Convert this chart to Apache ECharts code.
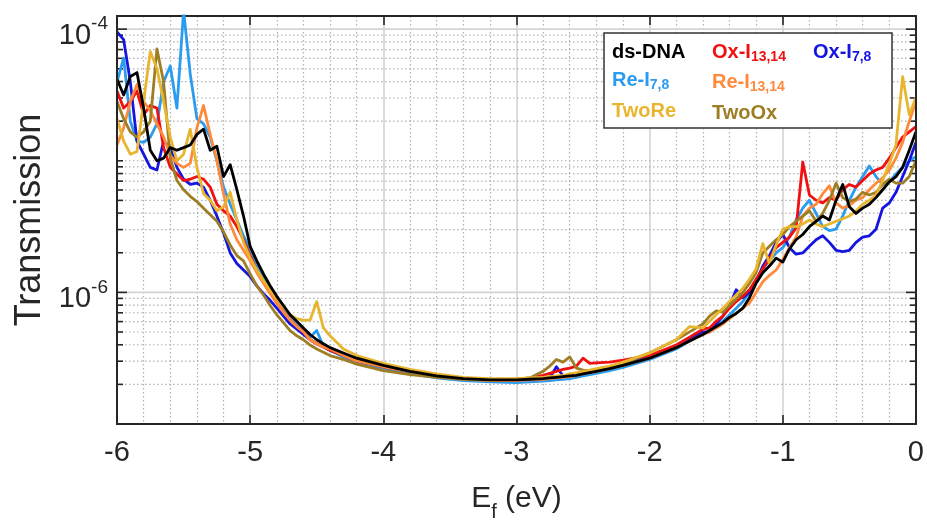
<!DOCTYPE html>
<html>
<head>
<meta charset="utf-8">
<script src="https://cdn.jsdelivr.net/npm/echarts@6/dist/echarts.min.js"></script>
<style>
  html, body { margin: 0; padding: 0; background: #fff; }
  #chart { width: 927px; height: 527px; }
</style>
</head>
<body>
<div id="chart"></div>
<script>
// Fermi energy grid (eV)
const energy = [
  -6.00, -5.95, -5.90, -5.85, -5.80, -5.75, -5.70, -5.65, -5.60, -5.55,
  -5.50, -5.45, -5.40, -5.35, -5.30, -5.25, -5.20, -5.15, -5.10, -5.05,
  -5.00, -4.95, -4.90, -4.85, -4.80, -4.75, -4.70, -4.65, -4.60,
  -4.55, -4.50, -4.45, -4.40, -4.30, -4.20, -4.00, -3.80, -3.60, -3.40,
  -3.20, -3.00, -2.90, -2.80, -2.75, -2.70, -2.65, -2.60, -2.55, -2.50,
  -2.45, -2.40, -2.30, -2.20, -2.00, -1.80, -1.70, -1.60,
  -1.55, -1.50, -1.45, -1.40, -1.35, -1.30, -1.25, -1.20, -1.15, -1.10,
  -1.05, -1.00, -0.95, -0.90, -0.85, -0.80, -0.75, -0.70, -0.65, -0.60,
  -0.55, -0.50, -0.45, -0.40, -0.35, -0.30, -0.25, -0.20, -0.15, -0.10,
  -0.05, 0.00
];

// log10 of the transmission for each structure
const dsDNA = [
  -4.38, -4.50, -4.36, -4.33, -4.60, -4.92, -5.00, -4.98, -4.90, -4.92,
  -4.90, -4.88, -4.80, -4.76, -4.92, -4.89, -5.12, -5.03, -5.22, -5.42,
  -5.65, -5.76, -5.86, -5.95, -6.03, -6.10, -6.17, -6.22, -6.27,
  -6.32, -6.36, -6.39, -6.42, -6.46, -6.50, -6.555, -6.60, -6.635, -6.655,
  -6.665, -6.665, -6.66, -6.655, -6.65, -6.645, -6.64, -6.635, -6.63, -6.62,
  -6.61, -6.60, -6.58, -6.555, -6.50, -6.42, -6.37, -6.32,
  -6.29, -6.26, -6.23, -6.19, -6.16, -6.12, -6.04, -5.93, -5.85, -5.80,
  -5.74, -5.77, -5.67, -5.60, -5.56, -5.50, -5.46, -5.42, -5.45, -5.30,
  -5.18, -5.35, -5.40, -5.36, -5.33, -5.28, -5.22, -5.16, -5.12, -5.05,
  -4.92, -4.78
];
const oxI1314 = [
  -4.47, -4.60, -4.55, -4.47, -4.65, -4.58, -4.60, -4.90, -5.05, -5.10,
  -5.15, -5.14, -5.12, -5.14, -5.20, -5.33, -5.38, -5.42, -5.50, -5.60,
  -5.72, -5.83, -5.92, -6.00, -6.08, -6.15, -6.21, -6.26, -6.30,
  -6.36, -6.39, -6.415, -6.44, -6.48, -6.52, -6.565, -6.60, -6.635, -6.655,
  -6.665, -6.66, -6.65, -6.63, -6.615, -6.60, -6.585, -6.575, -6.56, -6.50,
  -6.54, -6.535, -6.53, -6.515, -6.48, -6.40, -6.34, -6.28,
  -6.27, -6.22, -6.18, -6.12, -6.07, -6.03, -5.98, -5.90, -5.82, -5.74,
  -5.66, -5.62, -5.58, -5.51, -5.01, -5.26, -5.30, -5.32, -5.28, -5.30,
  -5.22, -5.18, -5.20, -5.15, -5.10, -5.07, -5.05, -4.98, -4.90, -4.82,
  -4.78, -4.74
];
const oxI78 = [
  -4.02, -4.08, -4.40, -4.85, -4.95, -5.05, -5.07, -4.85, -4.90, -5.05,
  -5.14, -5.18, -5.17, -5.20, -5.30, -5.42, -5.55, -5.70, -5.78, -5.83,
  -5.88, -5.95, -6.01, -6.06, -6.12, -6.18, -6.24, -6.28, -6.32,
  -6.36, -6.39, -6.415, -6.44, -6.48, -6.52, -6.565, -6.60, -6.635, -6.655,
  -6.665, -6.665, -6.66, -6.655, -6.65, -6.565, -6.635, -6.63, -6.625, -6.615,
  -6.605, -6.595, -6.575, -6.55, -6.49, -6.41, -6.35, -6.30,
  -6.30, -6.24, -6.18, -6.10, -5.98, -6.04, -6.00, -5.92, -5.80, -5.72,
  -5.62, -5.56, -5.66, -5.71, -5.70, -5.65, -5.60, -5.57, -5.62, -5.68,
  -5.69, -5.68, -5.62, -5.58, -5.57, -5.52, -5.36, -5.32, -5.24, -5.12,
  -5.00, -4.86
];
const reI78 = [
  -4.40, -4.22, -4.70, -4.85, -4.86, -4.82, -4.72, -4.40, -4.28, -4.60,
  -3.86, -4.34, -4.68, -4.72, -4.82, -5.00, -5.20, -5.33, -5.45, -5.57,
  -5.67, -5.79, -5.89, -5.98, -6.06, -6.13, -6.20, -6.25, -6.30,
  -6.34, -6.29, -6.41, -6.44, -6.49, -6.53, -6.575, -6.615, -6.65, -6.67,
  -6.68, -6.685, -6.68, -6.675, -6.67, -6.665, -6.66, -6.655, -6.645, -6.635,
  -6.625, -6.615, -6.595, -6.57, -6.51, -6.43, -6.37, -6.31,
  -6.30, -6.26, -6.22, -6.17, -6.12, -6.07, -6.00, -5.90, -5.82, -5.76,
  -5.70, -5.66, -5.58, -5.45, -5.36, -5.30, -5.40, -5.50, -5.53, -5.52,
  -5.42, -5.30, -5.20, -5.12, -5.04, -5.12, -5.18, -5.16, -5.10, -5.05,
  -5.00, -4.97
];
const reI1314 = [
  -4.88, -4.75, -4.55, -4.42, -4.55, -4.62, -4.72, -4.82, -4.96, -5.02,
  -5.05, -5.02, -4.75, -4.58, -4.80, -5.00, -5.25, -5.48, -5.60, -5.68,
  -5.76, -5.85, -5.93, -6.01, -6.08, -6.15, -6.21, -6.26, -6.30,
  -6.36, -6.39, -6.415, -6.43, -6.48, -6.52, -6.565, -6.60, -6.64, -6.66,
  -6.67, -6.67, -6.665, -6.66, -6.655, -6.65, -6.645, -6.64, -6.63, -6.62,
  -6.61, -6.60, -6.58, -6.555, -6.50, -6.42, -6.37, -6.32,
  -6.30, -6.27, -6.24, -6.20, -6.16, -6.12, -6.08, -6.00, -5.92, -5.87,
  -5.83, -5.75, -5.66, -5.58, -5.42, -5.36, -5.33, -5.25, -5.19, -5.32,
  -5.36, -5.34, -5.30, -5.28, -5.22, -5.17, -5.13, -5.07, -4.98, -4.86,
  -4.70, -4.55
];
const twoRe = [
  -4.68, -4.85, -4.95, -4.93, -4.55, -4.17, -4.30, -4.55, -4.82, -5.00,
  -4.95, -4.76, -5.05, -5.25, -5.30, -5.38, -5.35, -5.24, -5.45, -5.62,
  -5.74, -5.83, -5.91, -5.98, -6.05, -6.11, -6.17, -6.20, -6.21,
  -6.21, -6.07, -6.27, -6.33, -6.43, -6.48, -6.54, -6.585, -6.62, -6.645,
  -6.655, -6.655, -6.65, -6.645, -6.64, -6.635, -6.63, -6.62, -6.61, -6.60,
  -6.59, -6.58, -6.56, -6.53, -6.46, -6.36, -6.26, -6.27,
  -6.22, -6.17, -6.12, -6.07, -6.02, -5.97, -5.90, -5.82, -5.63, -5.78,
  -5.64, -5.52, -5.50, -5.50, -5.48, -5.45, -5.48, -5.50, -5.48, -5.46,
  -5.44, -5.42, -5.38, -5.33, -5.30, -5.26, -5.15, -5.02, -4.88, -4.36,
  -4.65, -4.52
];
const twoOx = [
  -4.55, -4.68, -4.78, -4.82, -4.78, -4.70, -4.15, -4.40, -4.98, -5.15,
  -5.22, -5.27, -5.31, -5.36, -5.41, -5.46, -5.54, -5.64, -5.72, -5.76,
  -5.86, -5.95, -6.02, -6.10, -6.17, -6.23, -6.29, -6.33, -6.36,
  -6.40, -6.43, -6.455, -6.48, -6.51, -6.545, -6.595, -6.625, -6.645, -6.66,
  -6.665, -6.66, -6.65, -6.60, -6.56, -6.51, -6.53, -6.49, -6.575, -6.59,
  -6.595, -6.59, -6.57, -6.54, -6.46, -6.36, -6.30, -6.24,
  -6.18, -6.14, -6.15, -6.10, -6.05, -6.00, -5.93, -5.85, -5.70, -5.65,
  -5.60, -5.56, -5.50, -5.46, -5.42, -5.38, -5.46, -5.40, -5.30, -5.17,
  -5.28, -5.31, -5.29, -5.24, -5.26, -5.24, -5.18, -5.14, -5.17, -5.17,
  -5.12, -5.00
];

// axis ranges and labelled decades
const xRange = [-6, 0];
const yRange = [1e-7, Math.pow(10, -3.9)];
const yLabelExponents = [-6, -4];
const yMajorLines = [1e-6, 1e-4];

const FONT = '"Liberation Sans", Arial, sans-serif';
const AXIS_COLOR = '#262626';

// series: legend label parts, colour, values; listed in drawing order
const curves = [
  { main: 'Re-I', sub: '7,8',   color: '#2A9BEF', values: reI78 },
  { main: 'Ox-I', sub: '7,8',   color: '#1515E0', values: oxI78 },
  { main: 'Ox-I', sub: '13,14', color: '#F01010', values: oxI1314 },
  { main: 'Re-I', sub: '13,14', color: '#FF8A3C', values: reI1314 },
  { main: 'TwoOx', sub: '',     color: '#9E7E25', values: twoOx },
  { main: 'TwoRe', sub: '',     color: '#E8B52F', values: twoRe },
  { main: 'ds-DNA', sub: '',    color: '#000000', values: dsDNA }
];
curves.forEach(c => { c.name = c.main + c.sub; });
const byName = {};
curves.forEach(c => { byName[c.name] = c; });

// minor decade lines (2..9 x 10^n, plus the unlabelled decade 10^-5)
const gridRows = [];
for (let e = -7; e <= -5; e++) {
  for (let k = 1; k <= 9; k++) {
    const v = k * Math.pow(10, e);
    if (v <= yRange[0] * 1.0001) continue;
    const major = yMajorLines.some(m => Math.abs(m - v) / m < 1e-6);
    gridRows.push([xRange[0], v, major ? 1 : 0]);
  }
}
gridRows.push([xRange[0], 1e-4, 1]);

const chart = echarts.init(document.getElementById('chart'), null, { renderer: 'canvas' });

const lineSeries = curves.map(c => ({
  name: c.name,
  type: 'line',
  xAxisIndex: 0,
  yAxisIndex: 0,
  showSymbol: false,
  symbol: 'none',
  clip: true,
  z: 3,
  lineStyle: { color: c.color, width: 2.8, join: 'round' },
  itemStyle: { color: c.color },
  data: energy.map((x, i) => [x, Math.pow(10, c.values[i])])
}));

const gridSeries = {
  type: 'custom',
  xAxisIndex: 0,
  yAxisIndex: 0,
  silent: true,
  z: 1,
  encode: { x: 0, y: 1 },
  data: gridRows,
  renderItem: function (params, api) {
    const v = api.value(1);
    const major = api.value(2) === 1;
    const a = api.coord([xRange[0], v]);
    const b = api.coord([xRange[1], v]);
    const len = major ? 10 : 6;
    return {
      type: 'group',
      children: [
        {
          type: 'line',
          shape: { x1: a[0], y1: a[1], x2: b[0], y2: b[1] },
          style: major
            ? { stroke: '#d4d4d4', lineWidth: 1.6 }
            : { stroke: '#b0b0b0', lineWidth: 1.2, lineDash: [1.5, 2.5] }
        },
        {
          type: 'line',
          shape: { x1: a[0], y1: a[1], x2: a[0] + len, y2: a[1] },
          style: { stroke: AXIS_COLOR, lineWidth: 1.6 }
        },
        {
          type: 'line',
          shape: { x1: b[0] - len, y1: b[1], x2: b[0], y2: b[1] },
          style: { stroke: AXIS_COLOR, lineWidth: 1.6 }
        }
      ]
    };
  }
};

const legendRich = {
  m: { fontFamily: FONT, fontSize: 20, fontWeight: 'bold', lineHeight: 24 },
  s: { fontFamily: FONT, fontSize: 14, fontWeight: 'bold', lineHeight: 10, verticalAlign: 'bottom' }
};
function legendFor(names, left) {
  return {
    orient: 'vertical',
    left: left,
    top: 40,
    padding: 0,
    itemGap: 6.5,
    itemWidth: 0,
    itemHeight: 24,
    icon: 'none',
    selectedMode: false,
    z: 20,
    data: names.map(n => ({ name: n, textStyle: { color: byName[n].color } })),
    formatter: function (n) {
      const c = byName[n];
      return c.sub ? '{m|' + c.main + '}{s|' + c.sub + '}' : '{m|' + c.main + '}';
    },
    textStyle: { rich: legendRich, fontFamily: FONT, fontSize: 20, fontWeight: 'bold' }
  };
}

const option = {
  animation: false,
  backgroundColor: '#ffffff',
  textStyle: { fontFamily: FONT },
  grid: { left: 117, right: 10, top: 16, bottom: 102, containLabel: false },
  xAxis: [
    {
      type: 'value', position: 'bottom', min: xRange[0], max: xRange[1], interval: 1,
      z: 6,
      name: '{e|E}{f|f}{e| (eV)}',
      nameLocation: 'middle',
      nameGap: 52,
      nameTextStyle: {
        rich: {
          e: { fontFamily: FONT, fontSize: 30, color: AXIS_COLOR, lineHeight: 46 },
          f: { fontFamily: FONT, fontSize: 20, color: AXIS_COLOR, lineHeight: 20, verticalAlign: 'bottom' }
        }
      },
      axisLine: { show: true, onZero: false, lineStyle: { color: AXIS_COLOR, width: 2 } },
      axisTick: { show: true, inside: true, length: 9, lineStyle: { color: AXIS_COLOR, width: 1.6 } },
      axisLabel: { show: true, margin: 14, fontFamily: FONT, fontSize: 29, color: AXIS_COLOR },
      splitLine: { show: false },
      minorTick: { show: false }
    },
    {
      type: 'value', position: 'top', min: xRange[0], max: xRange[1], interval: 1,
      z: 0,
      axisLine: { show: true, onZero: false, lineStyle: { color: AXIS_COLOR, width: 2 } },
      axisTick: { show: true, inside: true, length: 9, lineStyle: { color: AXIS_COLOR, width: 1.6 } },
      axisLabel: { show: false },
      splitLine: { show: true, lineStyle: { color: '#d4d4d4', width: 1.6 } },
      minorTick: { show: true, splitNumber: 5, length: 0, lineStyle: { width: 0 } },
      minorSplitLine: { show: true, lineStyle: { color: '#b0b0b0', width: 1.2, type: [1.5, 2.5] } }
    }
  ],
  yAxis: [
    {
      type: 'log', logBase: 10, position: 'left', min: yRange[0], max: yRange[1],
      z: 6,
      name: 'Transmission',
      nameLocation: 'middle',
      nameGap: 69,
      nameTextStyle: { fontFamily: FONT, fontSize: 36, color: AXIS_COLOR },
      axisLine: { show: true, onZero: false, lineStyle: { color: AXIS_COLOR, width: 2 } },
      axisTick: { show: false },
      splitLine: { show: false },
      axisLabel: {
        show: true, margin: 9, padding: [14, 0, 0, 0],
        formatter: function (v) {
          const e = Math.log10(v);
          const r = Math.round(e);
          if (Math.abs(e - r) > 1e-6 || yLabelExponents.indexOf(r) < 0) return '';
          return '{b|10}{s|' + r + '}';
        },
        rich: {
          b: { fontFamily: FONT, fontSize: 29, color: AXIS_COLOR, lineHeight: 43 },
          s: { fontFamily: FONT, fontSize: 19, color: AXIS_COLOR, lineHeight: 19, verticalAlign: 'top' }
        }
      }
    },
    {
      type: 'log', logBase: 10, position: 'right', min: yRange[0], max: yRange[1],
      z: 6,
      axisLine: { show: true, onZero: false, lineStyle: { color: AXIS_COLOR, width: 2 } },
      axisTick: { show: false },
      axisLabel: { show: false },
      splitLine: { show: false }
    }
  ],
  legend: [
    legendFor(['ds-DNA', 'Re-I7,8', 'TwoRe'], 607),
    legendFor(['Ox-I13,14', 'Re-I13,14', 'TwoOx'], 707),
    legendFor(['Ox-I7,8'], 808)
  ],
  graphic: [
    {
      type: 'rect',
      z: 15,
      shape: { x: 604, y: 33, width: 288, height: 95 },
      style: { fill: '#ffffff', stroke: '#333333', lineWidth: 1.5 }
    }
  ],
  series: [gridSeries].concat(lineSeries)
};

chart.setOption(option);
</script>
</body>
</html>
